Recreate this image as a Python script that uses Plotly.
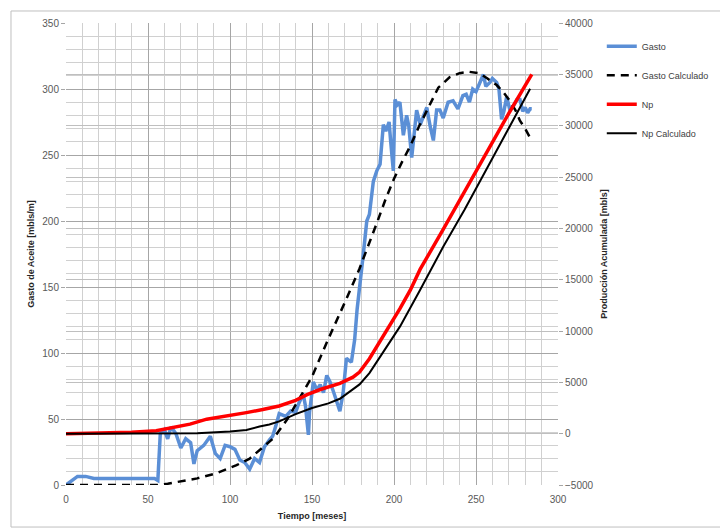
import plotly.graph_objects as go

# ---- Data ----
# Gasto (observed oil rate), left axis
months_gasto = [0, 3, 7, 12, 15, 17, 25, 35, 45, 54, 56, 57.5, 60, 62, 64, 67, 70, 73, 76, 78,
                80, 84, 88, 91, 94, 97, 100, 103, 106, 109, 112, 115, 118, 121, 124, 126, 128,
                130, 134, 137, 140, 142, 144.6, 146, 147.8, 148.5, 150.8, 153, 155, 157, 159,
                161, 163, 165, 167, 169, 171, 174, 176, 177.5, 179.3, 181.3, 183.4, 185, 187.4,
                189.5, 191.5, 193.5, 195, 197, 198, 199.6, 200.6, 202, 203.6, 205.7, 207.7, 209,
                210.8, 212, 213.8, 216, 218, 220, 222, 224, 226, 228, 230, 233, 236, 239, 242,
                244, 246, 248, 250, 252, 254.5, 256, 258.5, 260, 262.6, 264, 265.6, 267, 268.7,
                270.5, 272.8, 275, 276.8, 278.5, 280, 281.5, 283, 284]
gasto = [0, 3, 6.5, 6.5, 5.5, 5, 5, 5, 5, 5, 3.5, 39, 42, 35, 44, 39, 28, 35, 32, 16,
         26, 30, 37, 24, 20, 30, 29, 27, 19, 17, 12, 20, 17, 29, 34, 37, 45,
         54, 52, 56, 55, 62, 69, 60, 38, 55, 78, 72, 76, 70, 83,
         78, 71, 64, 56, 70, 96, 93, 110, 133, 151, 175, 200, 205, 230,
         238, 243, 273, 268, 275, 260, 238, 292, 288, 290, 265, 280, 272,
         248, 265, 284, 273, 280, 286, 272, 261, 284, 284, 278, 290, 291, 285, 295,
         296, 290, 300, 298, 304, 311, 302, 305, 308, 305, 300, 277, 283, 294,
         285, 287, 292, 292, 283, 286, 282, 285, 285]

# Gasto Calculado (fitted rate), left axis
months_gasto_calc = [0, 20, 40, 56, 62, 68, 80, 92, 98, 104, 112, 122, 127, 135, 144.7, 150, 159,
                     165, 171, 179, 185, 190, 195, 200, 205, 210, 215, 220, 227, 234, 240, 246,
                     252, 257, 262.6, 267, 270.7, 274, 276.8, 280, 283]
gasto_calc = [0, 0, 0, 0, 1, 2.5, 5, 9, 12, 15, 20, 31, 36, 50, 71, 82, 108,
              124, 141, 164, 183, 200, 217, 232, 245, 257, 271, 284, 301, 309, 312, 313,
              312, 308, 303, 297, 291, 284, 276, 270, 263]

# Np (cumulative production), right axis
months_np = [0, 20, 40, 55, 65, 75.6, 85.8, 100, 110, 120, 130, 140, 147, 155, 160, 167, 175,
             179, 185, 191.5, 197, 203.7, 210, 215.9, 230, 250, 270, 284]
np_real = [0, 60, 150, 280, 600, 930, 1410, 1750, 2050, 2350, 2700, 3250, 3800, 4300, 4550,
           4900, 5500, 6000, 7300, 9000, 10400, 12200, 14000, 16000, 19900, 25600, 31200, 35000]

# Np Calculado (fitted cumulative), right axis
months_np_calc = [0, 60, 80, 100, 110, 118, 124, 130, 140, 150, 160, 167, 179, 185, 191.5,
                  203.7, 215.9, 230, 243, 260, 283]
np_calc = [0, 0, 50, 200, 350, 700, 900, 1200, 1900, 2500, 2950, 3400, 4800, 5900, 7500,
           10450, 14000, 18200, 21800, 26800, 33600]

x_ticks = [0, 50, 100, 150, 200, 250, 300]

FONT = "Liberation Sans"
TICK_COLOR = "#595959"

fig = go.Figure()
fig.add_trace(go.Scatter(x=months_gasto, y=gasto, name="Gasto", mode="lines",
                         line=dict(color="#5b8fd6", width=3.5), legendgroup="g1"))
fig.add_trace(go.Scatter(x=months_gasto_calc, y=gasto_calc, name="Gasto Calculado", mode="lines",
                         line=dict(color="#000000", width=2.5, dash="8px,6px"), legendgroup="g2"))
fig.add_trace(go.Scatter(x=months_np, y=np_real, name="Np", mode="lines", yaxis="y2",
                         line=dict(color="#ff0000", width=3.5), legendgroup="g3"))
fig.add_trace(go.Scatter(x=months_np_calc, y=np_calc, name="Np Calculado", mode="lines", yaxis="y2",
                         line=dict(color="#000000", width=2), legendgroup="g4"))

fig.update_layout(
    width=728, height=531,
    margin=dict(l=58, r=178, t=9, b=54),
    paper_bgcolor="white", plot_bgcolor="white",
    font=dict(family=FONT, size=10, color=TICK_COLOR),
    xaxis=dict(range=[0, 300], tickmode="array", tickvals=x_ticks,
               showgrid=True, gridcolor="#a6a6a6", gridwidth=1,
               minor=dict(dtick=10, showgrid=True, gridcolor="#d0d0d0", gridwidth=1),
               ticks="", zeroline=False, showline=False, ticklabelstandoff=7,
               tickfont=dict(size=10, color=TICK_COLOR),
               title=dict(text="<b>Tiempo [meses]</b>", font=dict(size=9, color="#262626"), standoff=8)),
    yaxis=dict(range=[0, 350], dtick=50, tick0=0,
               showgrid=True, gridcolor="#a6a6a6", gridwidth=1,
               minor=dict(dtick=10, showgrid=True, gridcolor="#d0d0d0", gridwidth=1),
               ticks="outside", ticklen=4, tickcolor="#a6a6a6",
               zeroline=False, showline=False,
               tickfont=dict(size=10, color=TICK_COLOR),
               title=dict(text="<b>Gasto de Aceite [mbls/m]</b>", font=dict(size=9, color="#262626"), standoff=6)),
    yaxis2=dict(range=[-5000, 40000], dtick=5000, tick0=0, overlaying="y", side="right",
                tickformat="d",
                showgrid=True, gridcolor="#bfbfbf", gridwidth=1,
                ticks="outside", ticklen=4, tickcolor="#a6a6a6",
                zeroline=False, showline=False,
                tickfont=dict(size=10, color=TICK_COLOR),
                title=dict(text="<b>Producción Acumulada [mbls]</b>", font=dict(size=9, color="#262626"), standoff=8)),
    legend=dict(x=1.089, y=0.981, xanchor="left", yanchor="top",
                font=dict(size=9, color="#404040"), tracegroupgap=10,
                bgcolor="rgba(0,0,0,0)", itemwidth=30),
    shapes=[dict(type="rect", xref="paper", yref="paper",
                 x0=-0.1118, x1=1.337, y0=-0.091, y1=1.026,
                 line=dict(color="#bfbfbf", width=1), fillcolor="rgba(0,0,0,0)", layer="below")],
)

fig.write_html("out.html")
